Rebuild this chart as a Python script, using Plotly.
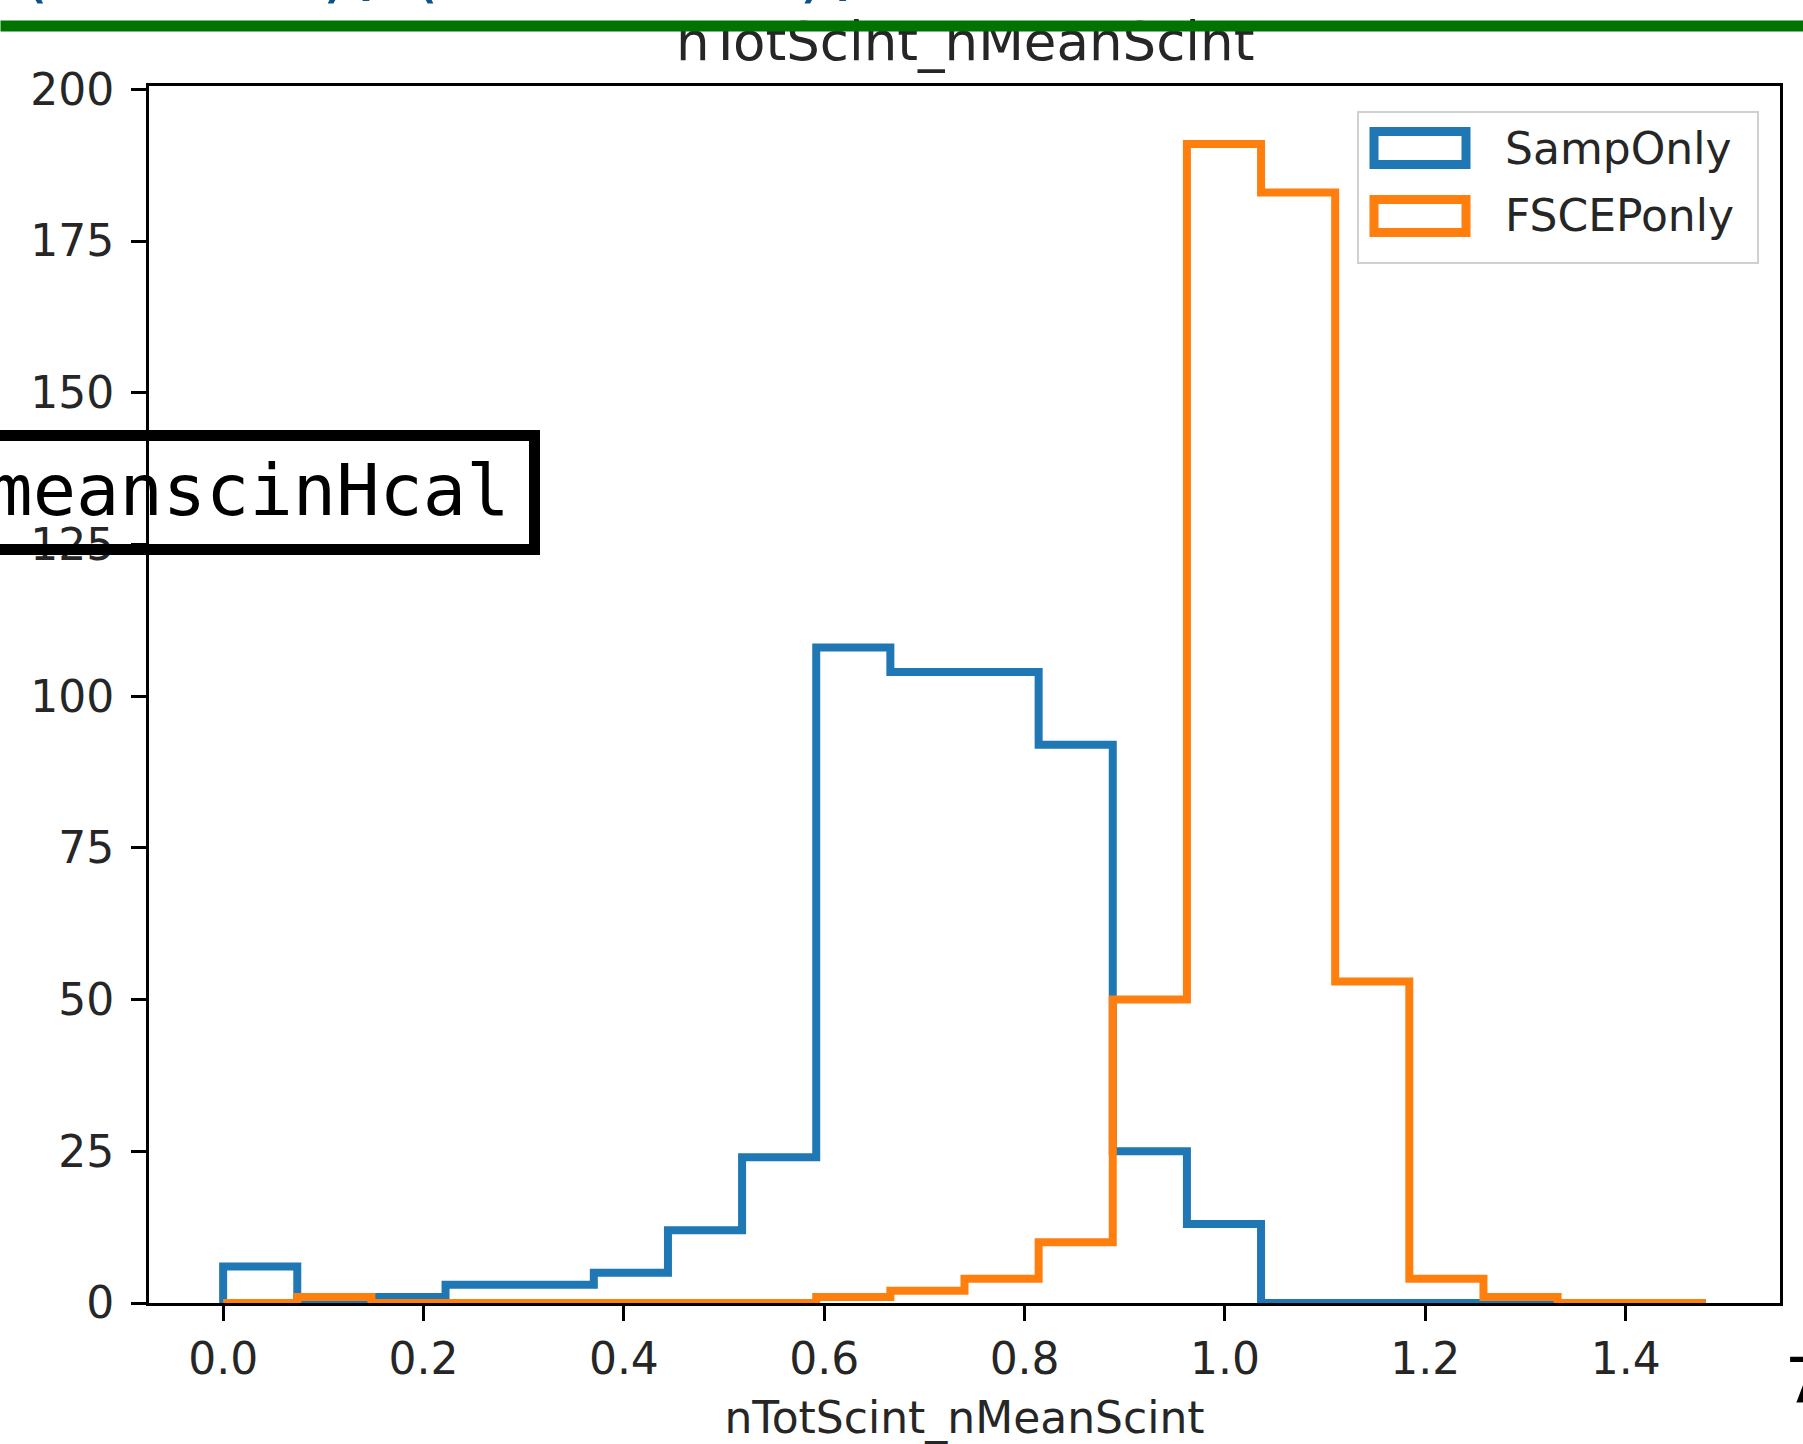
import numpy as np
import plotly.graph_objects as go

# ---------------- data ----------------
bin_lo, bin_hi, n_bins = 0.0, 1.48, 20
samp_only = [6, 0, 1, 3, 3, 5, 12, 24, 108, 104, 104, 92, 25, 13, 0, 0, 0, 0, 0, 0]
fscep_only = [0, 1, 0, 0, 0, 0, 0, 0, 1, 2, 4, 10, 50, 191, 183, 53, 4, 1, 0, 0]
series_names = ["SampOnly", "FSCEPonly"]
series_colors = ["#1f77b4", "#ff7f0e"]
x_ticks = [0.0, 0.2, 0.4, 0.6, 0.8, 1.0, 1.2, 1.4]
y_ticks = [0, 25, 50, 75, 100, 125, 150, 175, 200]
title_text = "nTotScint_nMeanScint"
xlabel_text = "nTotScint_nMeanScint"
box_text = "nmeanscinHcal"
top_text = "(ntotal)/(scinHcal)/meanscinHcal - nmeanscinHcal = 0.97"
corner_text = "7"

# ---------------- layout geometry (pixels) ----------------
W, H = 1803, 1444
L, R, T, B = 149, 1780, 86, 1303


def px(x):
    return (x - L) / (R - L)


def py(y):
    return (B - y) / (B - T)


edges = np.linspace(bin_lo, bin_hi, n_bins + 1)


def step_xy(counts):
    xs = [edges[0]] + list(edges[:-1]) + [edges[-1], edges[-1]]
    ys = [0] + list(counts) + [counts[-1], 0]
    return xs, ys


fig = go.Figure()
for name, counts, col in zip(series_names, [samp_only, fscep_only], series_colors):
    xs, ys = step_xy(counts)
    fig.add_trace(go.Scatter(x=xs, y=ys, mode="lines", name=name,
                             line=dict(color=col, width=8, shape="hv"),
                             showlegend=False, hoverinfo="skip"))

font_main = "DejaVu Sans"
tick_font = dict(family=font_main, size=44, color="#262626")

fig.update_layout(
    width=W, height=H,
    margin=dict(l=L, r=W - R, t=T, b=H - B, autoexpand=False),
    paper_bgcolor="white", plot_bgcolor="white",
    showlegend=False,
    xaxis=dict(range=[-0.074, 1.554], tickvals=x_ticks, tickformat=".1f",
               showgrid=False, zeroline=False, showline=True, mirror=True,
               linecolor="black", linewidth=3, ticks="outside", ticklen=15,
               tickwidth=3, tickcolor="black", tickfont=tick_font,
               ticklabelstandoff=0,
               title=dict(text=xlabel_text, font=dict(family=font_main, size=44, color="#262626"),
                          standoff=27),
               automargin=False),
    yaxis=dict(range=[0, 200.55], tickvals=y_ticks,
               showgrid=False, zeroline=False, showline=True, mirror=True,
               linecolor="black", linewidth=3, ticks="outside", ticklen=15,
               tickwidth=3, tickcolor="black", tickfont=tick_font,
               ticklabelstandoff=8, automargin=False),
)

shapes = []
annotations = []

# plot title (as annotation so the green rule can sit over it)
annotations.append(dict(text=title_text, xref="paper", yref="paper",
                        x=px((L + R) / 2), y=py(42), xanchor="center", yanchor="middle",
                        showarrow=False, font=dict(family=font_main, size=53, color="#262626")))

# legend (manual, patch style like matplotlib)
shapes.append(dict(type="rect", xref="paper", yref="paper",
                   x0=px(1358), x1=px(1758), y0=py(263), y1=py(112),
                   line=dict(color="#d0d0d0", width=2), fillcolor="rgba(255,255,255,0.8)",
                   layer="above"))
for i, (name, col) in enumerate(zip(series_names, series_colors)):
    cy = 148 + i * 68
    shapes.append(dict(type="rect", xref="paper", yref="paper",
                       x0=px(1374), x1=px(1466), y0=py(cy + 16.5), y1=py(cy - 16.5),
                       line=dict(color=col, width=9), fillcolor="rgba(0,0,0,0)",
                       layer="above"))
    annotations.append(dict(text=name, xref="paper", yref="paper",
                            x=px(1503), y=py(cy), xanchor="left", yanchor="middle",
                            showarrow=False,
                            font=dict(family=font_main, size=44, color="#262626")))

# black outlined box with monospace label, running off the left edge
shapes.append(dict(type="rect", xref="paper", yref="paper",
                   x0=px(-60), x1=px(534.5), y0=py(549.5), y1=py(435.5),
                   line=dict(color="black", width=11), fillcolor="rgba(0,0,0,0)",
                   layer="above"))
annotations.append(dict(text=box_text, xref="paper", yref="paper",
                        x=px(512), y=py(490), xanchor="right", yanchor="middle",
                        showarrow=False,
                        font=dict(family="DejaVu Sans Mono", size=72, color="black")))

# blue text clipped at the top of the page
annotations.append(dict(text=top_text, xref="paper", yref="paper",
                        x=px(10), y=py(13), xanchor="left", yanchor="bottom",
                        showarrow=False,
                        font=dict(family="DejaVu Sans Mono", size=72, color="#0a5288")))

# green rule across the top
annotations.append(dict(text=" ", xref="paper", yref="paper",
                        x=px(0), y=py(26), xanchor="left", yanchor="middle",
                        width=W, height=10, bgcolor="#007300", borderpad=0,
                        showarrow=False, font=dict(size=1)))

# clipped character at bottom right
annotations.append(dict(text=corner_text, xref="paper", yref="paper",
                        x=px(1783), y=py(1380), xanchor="left", yanchor="middle",
                        showarrow=False,
                        font=dict(family=font_main, size=62, color="black")))

fig.update_layout(shapes=shapes, annotations=annotations)
fig.write_html("out.html")
